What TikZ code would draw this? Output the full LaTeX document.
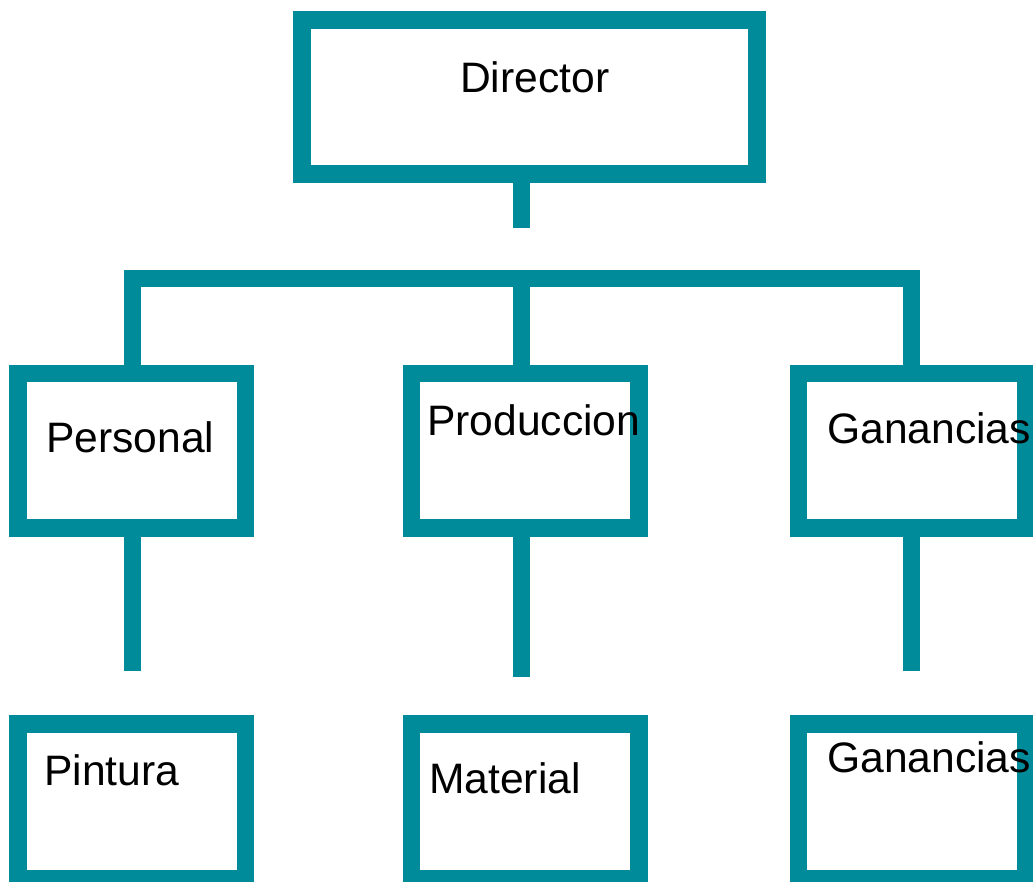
\documentclass[tikz,border=0pt]{standalone}
\usepackage{fontspec}
\setmainfont{Liberation Sans}
\definecolor{teal}{RGB}{0,139,155}
\begin{document}
\begin{tikzpicture}[x=1pt,y=-1pt,
  box/.style={draw=teal,line width=17.7pt,rectangle,inner sep=0pt,minimum width=227.3pt,minimum height=154.5pt},
  link/.style={draw=teal,line width=17pt,line join=miter,line cap=butt},
  lbl/.style={inner sep=0pt,anchor=base west,font=\fontsize{42.6}{50}\selectfont,text=black}]
\useasboundingbox (0,0) rectangle (1033,881);
% boxes
\node[box,minimum width=454.6pt,minimum height=154.2pt] (dir) at (529.5,97.1) {};
\node[box] (pers) at (131.9,450.6) {};
\node[box] (prod) at (525,450.6) {};
\node[box] (gan) at (912,450.6) {};
\node[box,minimum height=154.8pt] (pint) at (131.9,801.6) {};
\node[box,minimum height=154.8pt] (mat) at (525,801.6) {};
\node[box,minimum height=154.8pt] (gan2) at (912,801.6) {};
% labels
\node[lbl] (tdir) at (460,92) {Director};
\node[lbl] (tpers) at (46,452) {Personal};
\node[lbl] (tprod) at (427,435) {Produccion};
\node[lbl] (tgan) at (827,443) {Ganancias};
\node[lbl] (tpint) at (44,785) {Pintura};
\node[lbl] (tmat) at (429,793) {Material};
\node[lbl] (tgan2) at (827,772) {Ganancias};
% junction points
\coordinate (j) at (521.8,278.7);
\coordinate (jl) at (132,278.7);
\coordinate (jr) at (911.8,278.7);
\coordinate (ds) at (521.8,227.7);
\coordinate (e1) at (132,671.3);
\coordinate (e2) at (521.8,677.3);
\coordinate (e3) at (911.8,671.3);
% connectors
\draw[link] (dir.south -| ds) -- (ds);
\draw[link] (pers.north -| jl) -- (jl) -- (jr) -- (gan.north -| jr);
\draw[link] (j) -- (prod.north -| j);
\draw[link] (pers.south -| e1) -- (e1);
\draw[link] (prod.south -| e2) -- (e2);
\draw[link] (gan.south -| e3) -- (e3);
\end{tikzpicture}
\end{document}
